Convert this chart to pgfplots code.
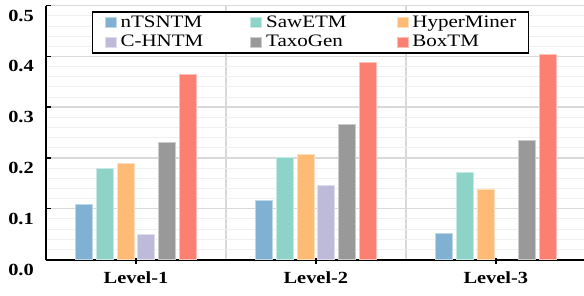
\documentclass[border=0pt]{standalone}
\usepackage{graphicx}
\usepackage{pgfplots}
\pgfplotsset{compat=1.18}
\usepackage{fontspec}
\setmainfont{Liberation Serif}
\newcommand{\ls}[1]{\scalebox{1.2}[1]{#1}}
\definecolor{cA}{HTML}{80B1D3}
\definecolor{cB}{HTML}{8DD3C7}
\definecolor{cC}{HTML}{FDBB76}
\definecolor{cD}{HTML}{BEBADA}
\definecolor{cE}{HTML}{999999}
\definecolor{cF}{HTML}{FB8072}
\definecolor{gmaj}{HTML}{D9D9D9}
\definecolor{gmin}{HTML}{F0F0F0}
\begin{document}
\begin{tikzpicture}
\begin{axis}[
  name=ax,
  scale only axis, width=538pt, height=253.8pt,
  xmin=-0.5, xmax=2.49, ymin=0, ymax=0.5,
  axis x line*=bottom, axis y line*=left,
  axis line style={line width=2pt, black, -},
  ybar=3.7pt, bar width=17pt,
  xtick={0,1,2}, xticklabels={\ls{Level-1},\ls{Level-2},\ls{Level-3}},
  minor xtick={0.5,1.5},
  ytick={0,0.1,0.2,0.3,0.4,0.5},
  minor y tick num=4,
  xminorgrids, ymajorgrids, yminorgrids,
  major y grid style={line width=1.5pt, gmaj},
  minor y grid style={line width=1pt, gmin},
  minor x grid style={line width=1.8pt, gmaj},
  tick align=inside,
  major tick length=5.5pt, minor tick length=0pt,
  tick style={line width=1.5pt, black},
  xtick style={yshift=-4pt},
  ticklabel style={font=\fontsize{17}{18}\selectfont\bfseries},
  yticklabel={\ls{\pgfmathprintnumber[fixed,fixed zerofill,precision=1,assume math mode=true]{\tick}}},
  yticklabel style={anchor=east, inner xsep=0pt, xshift=-12pt, yshift=-10pt},
  xticklabel style={anchor=north, inner ysep=0pt, yshift=-12pt},
  legend style={at={(0.0855,0.979)}, anchor=north west, draw=black, line width=1.5pt,
    font=\fontsize{17.5}{18}\selectfont, legend columns=3,
    inner xsep=12pt, inner ysep=4.5pt, row sep=6pt,
    nodes={inner sep=0pt},
    cells={anchor=base west},
    /tikz/column 1/.style={column sep=4pt},
    /tikz/column 3/.style={column sep=4pt},
    /tikz/column 5/.style={column sep=4pt},
    /tikz/column 2/.style={column sep=47pt},
    /tikz/column 4/.style={column sep=50pt}},
  legend image code/.code={\fill[#1] (0pt,0pt) rectangle (11pt,10pt);},
]
\addplot[fill=cA, draw=cA!50!white, line width=0.8pt] coordinates {(0,0.109) (1,0.117) (2,0.051)};
\addplot[fill=cB, draw=cB!50!white, line width=0.8pt] coordinates {(0,0.179) (1,0.201) (2,0.172)};
\addplot[fill=cC, draw=cC!50!white, line width=0.8pt] coordinates {(0,0.190) (1,0.207) (2,0.138)};
\addplot[fill=cD, draw=cD!50!white, line width=0.8pt] coordinates {(0,0.050) (1,0.146)};
\addplot[fill=cE, draw=cE!50!white, line width=0.8pt] coordinates {(0,0.230) (1,0.266) (2,0.234)};
\addplot[fill=cF, draw=cF!50!white, line width=0.8pt] coordinates {(0,0.365) (1,0.389) (2,0.404)};
\legend{\ls{nTSNTM},\ls{SawETM},\ls{HyperMiner},\ls{C-HNTM},\ls{TaxoGen},\ls{BoxTM}}
\end{axis}
\pgfresetboundingbox
\path ([xshift=-46pt,yshift=-35.5pt]ax.south west) rectangle ([yshift=5.7pt]ax.north east);
\end{tikzpicture}
\end{document}
